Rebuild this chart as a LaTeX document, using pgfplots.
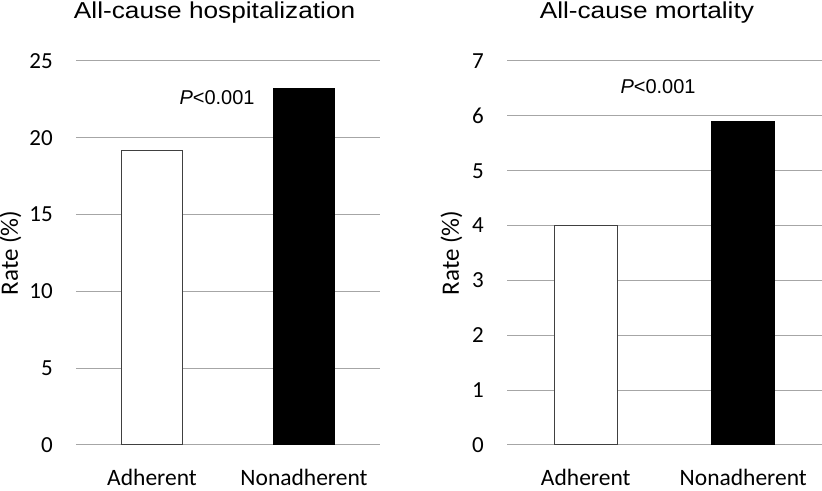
\documentclass[border=0pt]{standalone}
\usepackage{fontspec}
\usepackage{pgfplots}
\pgfplotsset{compat=1.18}
\setmainfont{Carlito}
\newfontfamily\arial{Liberation Sans}

\definecolor{gridgray}{HTML}{A6A6A6}
\definecolor{edgegray}{HTML}{404040}

\pgfplotsset{
  rateaxis/.style={
    scale only axis,
    height=384pt,
    anchor=south west,
    xmin=-0.5, xmax=1.5,
    ymin=0,
    xtick={0,1},
    xticklabels={Adherent,Nonadherent},
    axis line style={draw=none},
    tick style={draw=none},
    major tick length=0pt,
    ymajorgrids=true,
    grid style={gridgray, line width=1pt},
    /pgf/number format/assume math mode=true,
    yticklabel style={font=\fontsize{23}{27}\selectfont, anchor=east, inner sep=0pt, xshift=-23pt},
    xticklabel style={font=\fontsize{23.5}{27}\selectfont, anchor=base, inner sep=0pt, yshift=-40pt},
    ylabel={Rate (\%)},
    ylabel style={font=\fontsize{25}{29}\selectfont, anchor=base, inner sep=0pt},
    every axis title shift=0pt,
    title style={font=\arial\fontsize{23}{27}\selectfont, anchor=base, inner sep=0pt, yshift=42pt},
  },
  openbar/.style={ybar, bar shift=0pt, bar width=0.4, fill=white, draw=edgegray, line width=1pt},
  fullbar/.style={ybar, bar shift=0pt, bar width=0.4, fill=black, draw=black, line width=1pt},
}

\begin{document}
\begin{tikzpicture}
\path[use as bounding box] (0,0) rectangle (822pt,490pt);

% all-cause hospitalization
\begin{axis}[
    rateaxis,
    at={(76pt,45pt)},
    width=304pt,
    ymax=25,
    ytick={0,5,10,15,20,25},
    ylabel style={at={(axis description cs:-0.191,0.5)}},
    title={\scalebox{1.14}[1]{All-cause hospitalization}},
    title style={at={(axis description cs:0.456,1)}},
  ]
  \addplot[openbar] coordinates {(0,19.2)};
  \addplot[fullbar] coordinates {(1,23.2)};
  \node[anchor=base, font=\arial\fontsize{20}{24}\selectfont, inner sep=0pt]
    at (axis cs:0.428,22.2) {{\itshape P}<0.001};
\end{axis}

% all-cause mortality
\begin{axis}[
    rateaxis,
    at={(507pt,45pt)},
    width=315pt,
    ymax=7,
    ytick={0,1,2,3,4,5,6,7},
    ylabel style={at={(axis description cs:-0.153,0.5)}},
    title={\scalebox{1.14}[1]{All-cause mortality}},
    title style={at={(axis description cs:0.444,1)}},
  ]
  \addplot[openbar] coordinates {(0,4.0)};
  \addplot[fullbar] coordinates {(1,5.9)};
  \node[anchor=base, font=\arial\fontsize{20}{24}\selectfont, inner sep=0pt]
    at (axis cs:0.459,6.4) {{\itshape P}<0.001};
\end{axis}
\end{tikzpicture}
\end{document}
